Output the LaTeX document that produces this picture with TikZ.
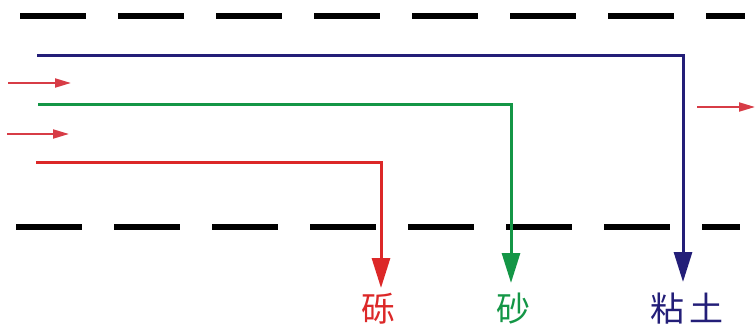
\documentclass[tikz,border=0pt]{standalone}
\usepackage{fontspec}
\newfontfamily\cjk{Noto Sans CJK SC}
\usetikzlibrary{arrows.meta}
\definecolor{gred}{RGB}{220,40,40}
\definecolor{ggreen}{RGB}{20,150,70}
\definecolor{gblue}{RGB}{35,30,120}
\definecolor{flowred}{RGB}{215,60,70}
\tikzset{
  boundary/.style={line width=6pt, black, dash pattern=on 66pt off 32pt},
  path/.style={line width=3pt, -{Triangle[length=30pt,width=18pt]}},
  flow/.style={line width=2pt, flowred, -{Triangle[length=16pt,width=9pt]}},
  lbl/.style={font=\cjk\fontsize{34pt}{38pt}\selectfont, inner sep=0pt, anchor=center}
}
\begin{document}
\begin{tikzpicture}[x=1pt,y=-1pt]
\useasboundingbox (0,0) rectangle (755,329);
% boundaries
\coordinate (t0) at (20,16); \coordinate (t1) at (745,16);
\coordinate (b0) at (16,227); \coordinate (b1) at (740,227);
\draw[boundary] (t0) -- (t1);
\draw[boundary] (b0) -- (b1);
% labels
\node[lbl, text=gred] (lr) at (378,309) {砾};
\node[lbl, text=ggreen] (lg) at (513,309) {砂};
\node[lbl, text=gblue] (lb) at (687,309) {粘\hspace{6pt}土};
% path starts and tips
\coordinate (rs) at (36,162); \coordinate (rt) at (381,288);
\coordinate (gs) at (38,104); \coordinate (gt) at (511,283);
\coordinate (bs) at (37,56);  \coordinate (bt) at (683,282);
\draw[path, gred] (rs) -| (rt);
\draw[path, ggreen] (gs) -| (gt);
\draw[path, gblue] (bs) -| (bt);
% flow arrows
\coordinate (f1a) at (8,83); \coordinate (f1b) at (71,83);
\coordinate (f2a) at (7,134); \coordinate (f2b) at (69,134);
\coordinate (f3a) at (697,107); \coordinate (f3b) at (755,107);
\draw[flow] (f1a) -- (f1b);
\draw[flow] (f2a) -- (f2b);
\draw[flow] (f3a) -- (f3b);
\end{tikzpicture}
\end{document}
